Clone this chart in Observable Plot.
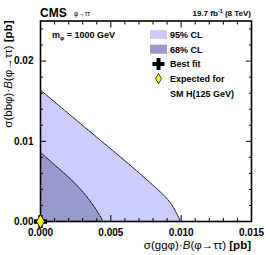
<!DOCTYPE html>
<html><head><meta charset="utf-8">
<script src="https://cdn.jsdelivr.net/npm/d3@7"></script>
<script src="https://cdn.jsdelivr.net/npm/@observablehq/plot@0.6"></script>
<style>
body{margin:0;background:#fff;overflow:hidden;}
#chart svg{font-family:"Liberation Sans",Arial,Helvetica,sans-serif;overflow:visible;}
</style>
</head><body><div id="chart"></div>
<script>
// 95% CL contour (x = σ(ggφ)·B, y = σ(bbφ)·B) in pb
const cl95X = [0, 0.00213, 0.00426, 0.00554, 0.00734, 0.00920, 0.00995];
const cl95Y = [0.01638, 0.01325, 0.01013, 0.00825, 0.00554, 0.00241, 0];
// 68% CL contour
const cl68X = [0, 0.00104, 0.00223, 0.00341, 0.00436, 0.00442];
const cl68Y = [0.0086, 0.0070, 0.00513, 0.00284, 0.0003, 0];
// markers
const bestFitX = [0], bestFitY = [0];
const expectedX = [0], expectedY = [0];
// ticks
const xMajorTicks = [0, 0.005, 0.010, 0.015];
const xMinorTicks = [0.001, 0.002, 0.003, 0.004, 0.006, 0.007, 0.008, 0.009, 0.011, 0.012, 0.013, 0.014];
const yMajorTicks = [0, 0.01, 0.02];
const yMinorTicks = [0.002, 0.004, 0.006, 0.008, 0.012, 0.014, 0.016, 0.018, 0.022, 0.024];
const xTickLabels = ["0.000", "0.005", "0.010", "0.015"];
const yTickLabels = ["0.00", "0.01", "0.02"];
const legendLabels = ["95% CL", "68% CL", "Best fit", "Expected for", "SM H(125 GeV)"];
const colors = {cl95: "#ccccff", cl68: "#9999cc", expected: "#ffff00"};

const cl95 = cl95X.map((x, i) => ({x, y: cl95Y[i]}));
const cl68 = cl68X.map((x, i) => ({x, y: cl68Y[i]}));
const best = bestFitX.map((x, i) => ({x, y: bestFitY[i]}));
const expd = expectedX.map((x, i) => ({x, y: expectedY[i]}));

const W = 266, H = 255;
const plot = Plot.plot({
  width: W, height: H,
  marginLeft: 40, marginRight: 15, marginTop: 20.5, marginBottom: 34,
  x: {domain: [0, 0.015], label: null},
  y: {domain: [0, 0.025], label: null},
  style: {fontFamily: '"Liberation Sans",Arial,sans-serif', fontSize: "10px", fontWeight: "bold", color: "#000", background: "#fff"},
  marks: [
    Plot.areaY(cl95, {x: "x", y: "y", fill: colors.cl95, curve: "catmull-rom"}),
    Plot.areaY(cl68, {x: "x", y: "y", fill: colors.cl68, curve: "catmull-rom"}),
    Plot.line(cl95, {x: "x", y: "y", stroke: "#000", strokeWidth: 0.9, strokeDasharray: "2.5,1", curve: "catmull-rom"}),
    Plot.line(cl68, {x: "x", y: "y", stroke: "#000", strokeWidth: 0.9, strokeDasharray: "2.5,1", curve: "catmull-rom"}),
    // bottom
    Plot.axisX(xMinorTicks, {anchor: "bottom", tickSize: -3, text: null, label: null}),
    Plot.axisX(xMajorTicks, {anchor: "bottom", tickSize: -6, tickPadding: 13, tickFormat: (d, i) => xTickLabels[i], fontWeight: "bold", fontSize: 10, label: null}),
    // top
    Plot.axisX(xMinorTicks, {anchor: "top", tickSize: -3, text: null, label: null}),
    Plot.axisX(xMajorTicks, {anchor: "top", tickSize: -6, text: null, label: null}),
    // left
    Plot.axisY(yMinorTicks, {anchor: "left", tickSize: -3, text: null, label: null}),
    Plot.axisY(yMajorTicks, {anchor: "left", tickSize: -6, tickPadding: 13, tickFormat: (d, i) => yTickLabels[i], fontWeight: "bold", fontSize: 10, label: null}),
    // right
    Plot.axisY(yMinorTicks, {anchor: "right", tickSize: -3, text: null, label: null}),
    Plot.axisY(yMajorTicks, {anchor: "right", tickSize: -6, text: null, label: null}),
    Plot.frame({stroke: "#000", strokeWidth: 1.6}),
    Plot.dot(best, {x: "x", y: "y", symbol: "cross", r: 5.5, fill: "#000", stroke: "none", clip: false}),
    Plot.dot(expd, {x: "x", y: "y", symbol: "diamond", r: 4.2, fill: colors.expected, stroke: "#000", strokeWidth: 0.8})
  ]
});
document.getElementById("chart").appendChild(plot);

// decorations
const svg = d3.select(plot);
const sx = plot.scale("x"), sy = plot.scale("y");
const x0 = sx.range[0], x1 = sx.range[1];
const yTop = sy.range[1], yBot = sy.range[0];
const font = '"Liberation Sans",Arial,sans-serif';
const deco = svg.append("g").attr("font-family", font).attr("text-anchor", "start").attr("font-weight", "normal");

// header
deco.append("text").attr("x", x0).attr("y", yTop - 4).attr("font-size", 12).attr("font-weight", "bold").text("CMS");
deco.append("text").attr("x", x0 + 34).attr("y", yTop - 5).attr("font-size", 6.5).text("φ→ττ");
const lumi = deco.append("text").attr("x", x1).attr("y", yTop - 4.5).attr("text-anchor", "end")
  .attr("font-size", 8).attr("font-weight", "bold");
lumi.append("tspan").text("19.7 fb");
lumi.append("tspan").attr("font-size", 5.5).attr("dy", -3).text("-1");
lumi.append("tspan").attr("dy", 3).text(" (8 TeV)");

// mass label
const m = deco.append("text").attr("x", x0 + 12).attr("y", yTop + 17).attr("font-size", 9).attr("font-weight", "bold");
m.append("tspan").text("m");
m.append("tspan").attr("font-size", 6).attr("dy", 2).text("φ");
m.append("tspan").attr("dy", -2).text(" = 1000 GeV");

// legend
const lg = deco.append("g").attr("font-size", 9).attr("font-weight", "bold");
const lx = 150, ly0 = yTop + 14, step = 14.7;
lg.append("rect").attr("x", lx).attr("y", ly0 - 4.5).attr("width", 17).attr("height", 9).attr("fill", colors.cl95);
lg.append("rect").attr("x", lx).attr("y", ly0 + step - 4.5).attr("width", 17).attr("height", 9).attr("fill", colors.cl68);
lg.append("path").attr("transform", `translate(${lx + 8.5},${ly0 + 2 * step})`)
  .attr("d", d3.symbol(d3.symbolCross, 80)()).attr("fill", "#000");
lg.append("path").attr("transform", `translate(${lx + 8.5},${ly0 + 3 * step})`)
  .attr("d", d3.symbol(d3.symbolDiamond, 30)()).attr("fill", colors.expected).attr("stroke", "#000").attr("stroke-width", 0.8);
legendLabels.forEach((t, i) => {
  lg.append("text").attr("x", lx + 20).attr("y", ly0 + i * step + 3.3).text(t);
});

// axis titles
const xl = deco.append("text").attr("x", x1).attr("y", yBot + 27.5).attr("text-anchor", "end").attr("font-size", 11.5);
xl.append("tspan").text("σ(ggφ)·");
xl.append("tspan").attr("font-style", "italic").text("B");
xl.append("tspan").text("(φ→ττ) ");
xl.append("tspan").attr("font-weight", "bold").text("[pb]");

const yl = deco.append("text").attr("transform", `translate(12,${yTop}) rotate(-90)`).attr("text-anchor", "end").attr("font-size", 11.5);
yl.append("tspan").text("σ(bbφ)·");
yl.append("tspan").attr("font-style", "italic").text("B");
yl.append("tspan").text("(φ→ττ) ");
yl.append("tspan").attr("font-weight", "bold").text("[pb]");
</script>
</body></html>
